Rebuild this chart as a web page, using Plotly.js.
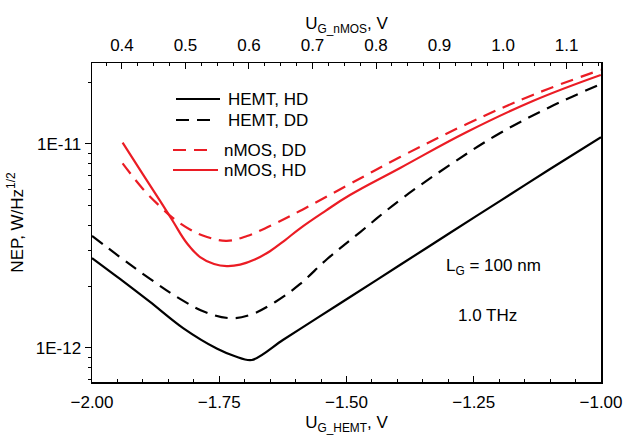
<!DOCTYPE html>
<html>
<head>
<meta charset="utf-8">
<script src="https://cdn.plot.ly/plotly-3.0.1.min.js"></script>
<style>html,body{margin:0;padding:0;background:#fff;}#chart{width:637px;height:435px;}</style>
</head>
<body>
<div id="chart"></div>
<script>
// HEMT gate voltage (bottom axis), V
const hemtHD_x = [-2.000, -1.945, -1.886, -1.821, -1.754, -1.719, -1.686, -1.625, -1.558, -1.493, -1.395, -1.297, -1.198, -1.100, -1.000];
const hemtHD_y = [2.76e-12, 2.18e-12, 1.68e-12, 1.25e-12, 9.90e-13, 9.10e-13, 8.73e-13, 1.094e-12, 1.40e-12, 1.778e-12, 2.55e-12, 3.66e-12, 5.26e-12, 7.54e-12, 1.08e-11];

const hemtDD_x = [-2.000, -1.945, -1.886, -1.827, -1.778, -1.729, -1.690, -1.640, -1.591, -1.538, -1.473, -1.395, -1.297, -1.198, -1.100, -1.000];
const hemtDD_y = [3.54e-12, 2.79e-12, 2.18e-12, 1.74e-12, 1.50e-12, 1.40e-12, 1.45e-12, 1.68e-12, 2.06e-12, 2.73e-12, 3.70e-12, 5.31e-12, 7.89e-12, 1.132e-11, 1.518e-11, 1.97e-11];

// nMOS gate voltage (top axis), V
const nmosHD_x = [0.401, 0.433, 0.460, 0.480, 0.502, 0.523, 0.545, 0.565, 0.586, 0.610, 0.633, 0.657, 0.680, 0.720, 0.759, 0.838, 0.943, 1.047, 1.154];
const nmosHD_y = [1.015e-11, 7.10e-12, 5.26e-12, 4.19e-12, 3.27e-12, 2.79e-12, 2.58e-12, 2.52e-12, 2.56e-12, 2.72e-12, 2.98e-12, 3.38e-12, 3.85e-12, 4.69e-12, 5.62e-12, 7.63e-12, 1.145e-11, 1.625e-11, 2.18e-11];

const nmosDD_x = [0.401, 0.433, 0.460, 0.480, 0.507, 0.534, 0.565, 0.597, 0.633, 0.680, 0.759, 0.838, 0.943, 1.047, 1.154];
const nmosDD_y = [8.04e-12, 6.02e-12, 4.94e-12, 4.34e-12, 3.81e-12, 3.50e-12, 3.35e-12, 3.54e-12, 3.96e-12, 4.69e-12, 6.37e-12, 8.63e-12, 1.253e-11, 1.74e-11, 2.31e-11];

const bottomTicks = [-2.00, -1.75, -1.50, -1.25, -1.00];
const topTicks = [0.4, 0.5, 0.6, 0.7, 0.8, 0.9, 1.0, 1.1];
const yTicks = [1e-12, 1e-11];
const yTickText = ["1E-12", "1E-11"];
const yMinor = [7e-13, 8e-13, 9e-13, 2e-12, 3e-12, 4e-12, 5e-12, 6e-12, 7e-12, 8e-12, 9e-12, 2e-11];

const legendNames = ["HEMT, HD", "HEMT, DD", "nMOS, DD", "nMOS, HD"];

const RED = "rgb(235,28,36)";
const BLACK = "#000";
const FONT = "Liberation Sans, Arial, sans-serif";
const DASH = "13px,8px";
const LW = 2.2;

const L = 92, R = 601, T = 63, B = 382, W = 637, H = 435;
const px = x => (x - L) / (R - L);
const py = y => (B - y) / (B - T);

const traces = [
  {x: hemtHD_x, y: hemtHD_y, mode: "lines", line: {color: BLACK, width: LW, shape: "spline", smoothing: 0.9}, xaxis: "x", yaxis: "y", showlegend: false},
  {x: hemtDD_x, y: hemtDD_y, mode: "lines", line: {color: BLACK, width: LW, dash: DASH, shape: "spline", smoothing: 1.1}, xaxis: "x", yaxis: "y", showlegend: false},
  {x: nmosDD_x, y: nmosDD_y, mode: "lines", line: {color: RED, width: LW, dash: DASH, shape: "spline", smoothing: 1.1}, xaxis: "x2", yaxis: "y", showlegend: false},
  {x: nmosHD_x, y: nmosHD_y, mode: "lines", line: {color: RED, width: LW, shape: "spline", smoothing: 1.2}, xaxis: "x2", yaxis: "y", showlegend: false}
];

// custom legend
const legRows = [
  {x0: 176, x1: 220, y: 99, tx: 226, color: BLACK, dash: "solid"},
  {x0: 176, x1: 211, y: 120, tx: 226, color: BLACK, dash: DASH},
  {x0: 173, x1: 208, y: 150, tx: 222, color: RED, dash: DASH},
  {x0: 173, x1: 218, y: 170, tx: 222, color: RED, dash: "solid"}
];
const shapes = legRows.map(r => ({type: "line", xref: "paper", yref: "paper", x0: px(r.x0), x1: px(r.x1), y0: py(r.y), y1: py(r.y), line: {color: r.color, width: LW, dash: r.dash}}));
const annotations = legRows.map((r, i) => ({xref: "paper", yref: "paper", x: px(r.tx), y: py(r.y), xanchor: "left", yanchor: "middle", text: legendNames[i], showarrow: false, font: {family: FONT, size: 17, color: "#000"}}));
annotations.push({xref: "paper", yref: "paper", x: px(493), y: py(267), xanchor: "center", yanchor: "middle", text: "L<sub>G</sub> = 100 nm", showarrow: false, font: {family: FONT, size: 17, color: "#000"}});
annotations.push({xref: "paper", yref: "paper", x: px(487), y: py(315), xanchor: "center", yanchor: "middle", text: "1.0 THz", showarrow: false, font: {family: FONT, size: 17, color: "#000"}});

const layout = {
  width: W, height: H,
  margin: {l: L, r: W - R, t: T, b: H - B, pad: 0},
  paper_bgcolor: "#fff", plot_bgcolor: "#fff",
  font: {family: FONT, size: 17, color: "#000"},
  showlegend: false,
  xaxis: {
    range: [-2, -1], tickvals: bottomTicks, tickformat: ".2f",
    ticks: "inside", ticklen: 6, tickwidth: 1, tickcolor: "#000",
    minor: {dtick: 0.05, ticks: "inside", ticklen: 3, tickcolor: "#000"},
    showline: true, linecolor: "#000", linewidth: 1.5, mirror: false,
    showgrid: false, zeroline: false,
    tickfont: {family: FONT, size: 17},
    ticklabelstandoff: 4,
    title: {text: "U<sub>G_HEMT</sub>, V", font: {family: FONT, size: 17}, standoff: 6}
  },
  xaxis2: {
    overlaying: "x", side: "top", anchor: "y",
    range: [0.3528, 1.1543], tickvals: topTicks, tickformat: ".1f",
    ticks: "inside", ticklen: 6, tickwidth: 1, tickcolor: "#000",
    minor: {dtick: 0.025, tick0: 0.4, ticks: "inside", ticklen: 3, tickcolor: "#000"},
    showline: true, linecolor: "#000", linewidth: 1.5,
    showgrid: false, zeroline: false,
    tickfont: {family: FONT, size: 17},
    ticklabelstandoff: 4,
    title: {text: "U<sub>G_nMOS</sub>, V", font: {family: FONT, size: 17}, standoff: 1}
  },
  yaxis: {
    type: "log", range: [-12.167, -10.603],
    tickvals: yTicks, ticktext: yTickText,
    ticks: "outside", ticklen: 6, tickwidth: 1, tickcolor: "#000",
    minor: {tickvals: yMinor, ticks: "outside", ticklen: 3, tickcolor: "#000"},
    showline: true, linecolor: "#000", linewidth: 1.5, mirror: true,
    showgrid: false, zeroline: false,
    tickfont: {family: FONT, size: 17},
    title: {text: "NEP, W/Hz<sup>1/2</sup>", font: {family: FONT, size: 17}, standoff: 8}
  },
  shapes: shapes,
  annotations: annotations
};

Plotly.newPlot("chart", traces, layout, {displayModeBar: false, staticPlot: true});
</script>
</body>
</html>
